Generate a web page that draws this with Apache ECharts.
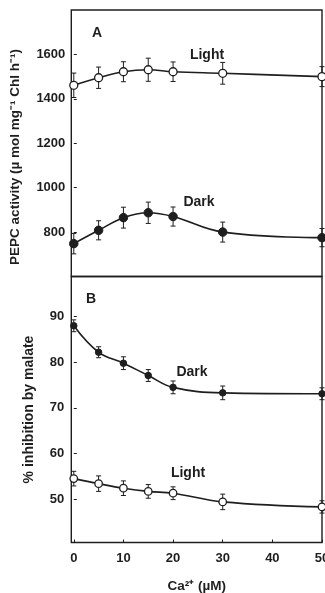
<!DOCTYPE html>
<html>
<head>
<meta charset="utf-8">
<title>PEPC activity and malate inhibition vs Ca2+</title>
<script src="https://cdn.jsdelivr.net/npm/echarts@6/dist/echarts.min.js"></script>
<style>
  html, body { margin: 0; padding: 0; background: #ffffff; }
  #chart { width: 325px; height: 593px; }
</style>
</head>
<body>
<div id="chart"></div>
<script>
// Ca2+ concentrations (µM)
const concentration = [0, 5, 10, 15, 20, 30, 50];

// Panel A: PEPC activity (µmol mg-1 Chl h-1)
const pepcLight    = [1461, 1495, 1522, 1531, 1522, 1515, 1500];
const pepcLightErr = [55, 48, 45, 52, 44, 49, 45];
const pepcDark     = [748, 808, 865, 887, 870, 800, 775];
const pepcDarkErr  = [46, 43, 47, 48, 43, 45, 41];

// Panel B: % inhibition by malate
const inhibDark     = [88.0, 82.2, 79.8, 77.1, 74.5, 73.3, 73.1];
const inhibDarkErr  = [1.3, 1.2, 1.4, 1.3, 1.4, 1.5, 1.3];
const inhibLight    = [54.5, 53.4, 52.4, 51.7, 51.3, 49.4, 48.3];
const inhibLightErr = [1.6, 1.7, 1.6, 1.5, 1.4, 1.7, 1.35];

// Tick labels
const xTicks     = [0, 10, 20, 30, 40, 50];
const pepcTicks  = [800, 1000, 1200, 1400, 1600];
const inhibTicks = [50, 60, 70, 80, 90];

const INK = '#1e1e1e';
const FONT = '"Liberation Sans", Arial, sans-serif';

const chart = echarts.init(document.getElementById('chart'), null, { renderer: 'canvas' });

function pairs(values) {
  return concentration.map((c, i) => [c, values[i]]);
}

function errorBars(values, errs, axisIndex) {
  return {
    type: 'custom',
    xAxisIndex: axisIndex,
    yAxisIndex: axisIndex,
    z: 1,
    silent: true,
    data: concentration.map((c, i) => [c, values[i] - errs[i], values[i] + errs[i]]),
    renderItem: function (params, api) {
      const x = api.value(0);
      const lo = api.coord([x, api.value(1)]);
      const hi = api.coord([x, api.value(2)]);
      const cap = 2.5;
      const style = { stroke: INK, lineWidth: 1 };
      return {
        type: 'group',
        children: [
          { type: 'line', shape: { x1: lo[0], y1: lo[1], x2: hi[0], y2: hi[1] }, style: style },
          { type: 'line', shape: { x1: hi[0] - cap, y1: hi[1], x2: hi[0] + cap, y2: hi[1] }, style: style },
          { type: 'line', shape: { x1: lo[0] - cap, y1: lo[1], x2: lo[0] + cap, y2: lo[1] }, style: style }
        ]
      };
    }
  };
}

function curve(values, axisIndex, open, size) {
  return {
    type: 'line',
    xAxisIndex: axisIndex,
    yAxisIndex: axisIndex,
    z: 3,
    smooth: 0.4,
    clip: false,
    data: pairs(values),
    symbol: 'circle',
    symbolSize: size,
    showAllSymbol: true,
    lineStyle: { color: INK, width: 1.6 },
    itemStyle: open
      ? { color: '#ffffff', borderColor: INK, borderWidth: 1.3 }
      : { color: INK, borderColor: INK, borderWidth: 1 },
    emphasis: { disabled: true }
  };
}

const tickLabel = {
  color: INK, fontFamily: FONT, fontSize: 13, fontWeight: 'bold',
  formatter: function (v) { return String(v); }
};

const xBase = {
  type: 'value',
  min: -0.5,
  max: 50,
  axisLine: { show: false },
  splitLine: { show: false }
};

const gridBase = {
  left: 71.3, width: 250.7, show: true, borderColor: INK, borderWidth: 1.4,
  backgroundColor: 'transparent', containLabel: false, outerBoundsMode: 'none'
};

const option = {
  backgroundColor: '#ffffff',
  animation: false,
  grid: [
    Object.assign({}, gridBase, { top: 10, height: 266.5 }),
    Object.assign({}, gridBase, { top: 276.5, height: 266 })
  ],
  xAxis: [
    Object.assign({}, xBase, {
      gridIndex: 0,
      axisTick: { show: false },
      axisLabel: { show: false }
    }),
    Object.assign({}, xBase, {
      gridIndex: 1,
      axisTick: { show: true, inside: true, length: 3, customValues: xTicks, lineStyle: { color: INK } },
      axisLabel: Object.assign({ margin: 9, customValues: xTicks }, tickLabel),
      name: 'Ca²⁺ (µM)',
      nameLocation: 'middle',
      nameGap: 37,
      nameTextStyle: { color: INK, fontFamily: FONT, fontSize: 13.5, fontWeight: 'bold' }
    })
  ],
  yAxis: [
    {
      type: 'value',
      gridIndex: 0,
      min: 600,
      max: 1800,
      axisLine: { show: false },
      splitLine: { show: false },
      axisTick: { show: true, inside: true, length: 3, customValues: pepcTicks, lineStyle: { color: INK } },
      axisLabel: Object.assign({ margin: 6, customValues: pepcTicks }, tickLabel)
    },
    {
      type: 'value',
      gridIndex: 1,
      min: 40.5,
      max: 98.8,
      axisLine: { show: false },
      splitLine: { show: false },
      axisTick: { show: true, inside: true, length: 3, customValues: inhibTicks, lineStyle: { color: INK } },
      axisLabel: Object.assign({ margin: 7, customValues: inhibTicks }, tickLabel),
      name: '% inhibition by malate',
      nameLocation: 'middle',
      nameRotate: 90,
      nameGap: 35,
      nameTextStyle: { color: INK, fontFamily: FONT, fontSize: 14, fontWeight: 'bold' }
    }
  ],
  graphic: [
    {
      type: 'text', x: 15, y: 157, rotation: Math.PI / 2,
      style: { text: 'PEPC activity (µ mol mg⁻¹ Chl h⁻¹)', fill: INK, font: 'bold 13.5px ' + FONT, textAlign: 'center', textVerticalAlign: 'middle' }
    },
    { type: 'text', x: 97, y: 33, style: { text: 'A', fill: INK, font: 'bold 14px ' + FONT, textAlign: 'center', textVerticalAlign: 'middle' } },
    { type: 'text', x: 91, y: 299, style: { text: 'B', fill: INK, font: 'bold 14px ' + FONT, textAlign: 'center', textVerticalAlign: 'middle' } },
    { type: 'text', x: 207, y: 55, style: { text: 'Light', fill: INK, font: 'bold 14px ' + FONT, textAlign: 'center', textVerticalAlign: 'middle' } },
    { type: 'text', x: 199, y: 202, style: { text: 'Dark', fill: INK, font: 'bold 14px ' + FONT, textAlign: 'center', textVerticalAlign: 'middle' } },
    { type: 'text', x: 192, y: 372, style: { text: 'Dark', fill: INK, font: 'bold 14px ' + FONT, textAlign: 'center', textVerticalAlign: 'middle' } },
    { type: 'text', x: 188, y: 473, style: { text: 'Light', fill: INK, font: 'bold 14px ' + FONT, textAlign: 'center', textVerticalAlign: 'middle' } }
  ],
  series: [
    errorBars(pepcLight, pepcLightErr, 0),
    errorBars(pepcDark, pepcDarkErr, 0),
    curve(pepcLight, 0, true, 8),
    curve(pepcDark, 0, false, 8.5),
    errorBars(inhibDark, inhibDarkErr, 1),
    errorBars(inhibLight, inhibLightErr, 1),
    curve(inhibDark, 1, false, 6.5),
    curve(inhibLight, 1, true, 7.5)
  ]
};

chart.setOption(option);
</script>
</body>
</html>
